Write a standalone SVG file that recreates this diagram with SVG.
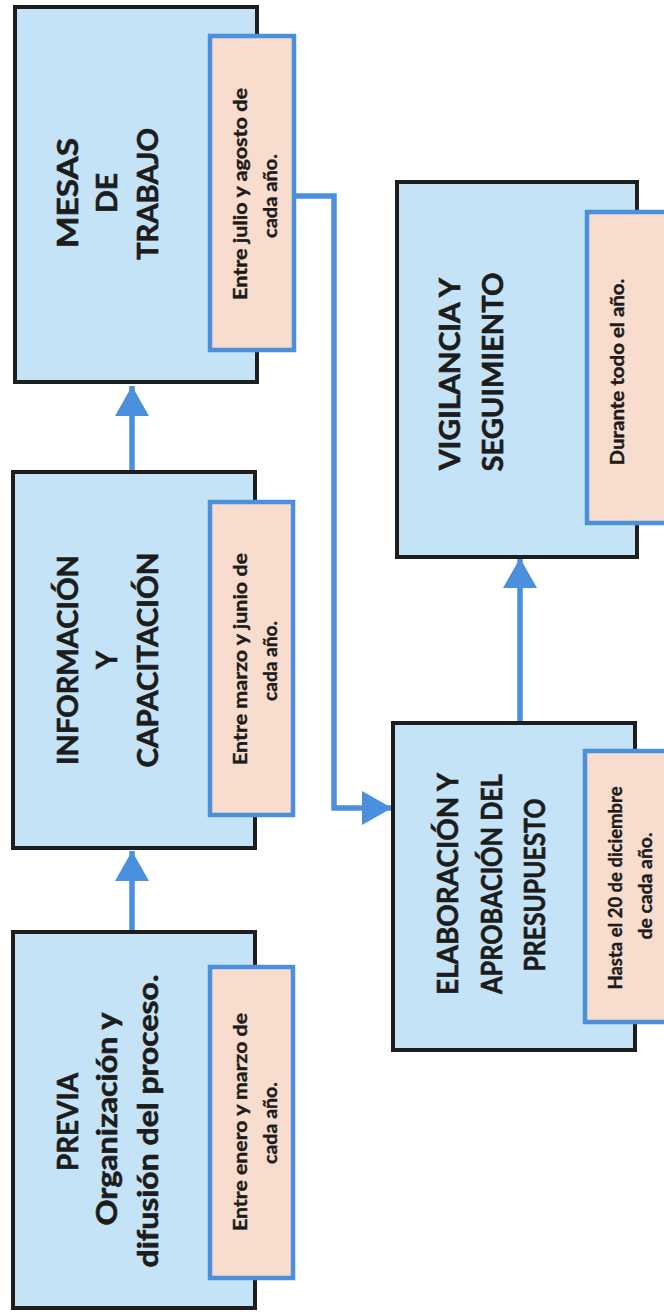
<svg xmlns="http://www.w3.org/2000/svg" width="664" height="1313" viewBox="0 0 664 1313">
<style>
.box{fill:#c4e3f7;stroke:#1e1e1e;stroke-width:4}
.note{fill:#f8dccd;stroke:#4a90dc;stroke-width:4.5}
.main{font-family:Lato,"Open Sans","Liberation Sans",sans-serif;font-weight:700;font-size:28px;fill:#1c1c1c;stroke:#1c1c1c;stroke-width:0.6;text-anchor:middle}
.small{font-family:Lato,"Open Sans","Liberation Sans",sans-serif;font-weight:700;font-size:19px;fill:#1c1c1c;stroke:#1c1c1c;stroke-width:0.4;text-anchor:middle}
.conn{fill:none;stroke:#4a90dc;stroke-width:5.5}
</style>
<defs>
<marker id="ah" markerUnits="userSpaceOnUse" markerWidth="32" markerHeight="34" refX="30" refY="17" orient="auto">
<path d="M0,0 L30,17 L0,34 Z" fill="#4a90dc"/>
</marker>
</defs>
<rect width="664" height="1313" fill="#ffffff"/>
<g id="connectors">
<line class="conn" x1="132" y1="932" x2="132" y2="851" marker-end="url(#ah)"/>
<line class="conn" x1="132" y1="472" x2="132" y2="386" marker-end="url(#ah)"/>
<polyline class="conn" points="294,196 334,196 334,808 392,808" marker-end="url(#ah)"/>
<line class="conn" x1="520" y1="723" x2="520" y2="558" marker-end="url(#ah)"/>
</g>
<g id="previa">
<rect class="box" x="13" y="932" width="242" height="376"/>
<text class="main" transform="translate(78,1122) rotate(-90)" textLength="98" lengthAdjust="spacingAndGlyphs">PREVIA</text>
<text class="main" transform="translate(117,1119) rotate(-90)" textLength="213" lengthAdjust="spacingAndGlyphs">Organización y</text>
<text class="main" transform="translate(158,1121) rotate(-90)" textLength="293" lengthAdjust="spacingAndGlyphs">difusión del proceso.</text>
<rect class="note" x="210" y="967" width="83" height="311"/>
<text class="small" transform="translate(247,1122) rotate(-90)" textLength="218" lengthAdjust="spacingAndGlyphs">Entre enero y marzo de</text>
<text class="small" transform="translate(277,1123) rotate(-90)" textLength="82" lengthAdjust="spacingAndGlyphs">cada año.</text>
</g>
<g id="informacion">
<rect class="box" x="13" y="472" width="242" height="376"/>
<text class="main" transform="translate(78,660) rotate(-90)" textLength="210" lengthAdjust="spacingAndGlyphs">INFORMACIÓN</text>
<text class="main" transform="translate(117,660) rotate(-90)">Y</text>
<text class="main" transform="translate(158,660) rotate(-90)" textLength="215" lengthAdjust="spacingAndGlyphs">CAPACITACIÓN</text>
<rect class="note" x="210" y="502" width="83" height="313"/>
<text class="small" transform="translate(247,659) rotate(-90)" textLength="212" lengthAdjust="spacingAndGlyphs">Entre marzo y junio de</text>
<text class="small" transform="translate(277,661) rotate(-90)" textLength="80" lengthAdjust="spacingAndGlyphs">cada año.</text>
</g>
<g id="mesas">
<rect class="box" x="15" y="7" width="242" height="375"/>
<text class="main" transform="translate(78,193) rotate(-90)" textLength="110" lengthAdjust="spacingAndGlyphs">MESAS</text>
<text class="main" transform="translate(117,193) rotate(-90)" textLength="40" lengthAdjust="spacingAndGlyphs">DE</text>
<text class="main" transform="translate(158,194) rotate(-90)" textLength="132" lengthAdjust="spacingAndGlyphs">TRABAJO</text>
<rect class="note" x="210" y="36" width="84" height="314"/>
<text class="small" transform="translate(247,194) rotate(-90)" textLength="212" lengthAdjust="spacingAndGlyphs">Entre julio y agosto de</text>
<text class="small" transform="translate(277,196) rotate(-90)" textLength="84" lengthAdjust="spacingAndGlyphs">cada año.</text>
</g>
<g id="vigilancia">
<rect class="box" x="397" y="182" width="240" height="375"/>
<text class="main" transform="translate(460,374) rotate(-90)" textLength="192" lengthAdjust="spacingAndGlyphs">VIGILANCIA Y</text>
<text class="main" transform="translate(503,372) rotate(-90)" textLength="199" lengthAdjust="spacingAndGlyphs">SEGUIMIENTO</text>
<rect class="note" x="587" y="212" width="100" height="311"/>
<text class="small" transform="translate(624,372) rotate(-90)" textLength="187" lengthAdjust="spacingAndGlyphs">Durante todo el año.</text>
</g>
<g id="elaboracion">
<rect class="box" x="393" y="723" width="242" height="327"/>
<text class="main" transform="translate(458,884) rotate(-90)" textLength="222" lengthAdjust="spacingAndGlyphs">ELABORACIÓN Y</text>
<text class="main" transform="translate(502,884) rotate(-90)" textLength="220" lengthAdjust="spacingAndGlyphs">APROBACIÓN DEL</text>
<text class="main" transform="translate(545,885) rotate(-90)" textLength="173" lengthAdjust="spacingAndGlyphs">PRESUPUESTO</text>
<rect class="note" x="585" y="751" width="100" height="271"/>
<text class="small" transform="translate(622,888) rotate(-90)" textLength="203" lengthAdjust="spacingAndGlyphs">Hasta el 20 de diciembre</text>
<text class="small" transform="translate(652,886) rotate(-90)" textLength="107" lengthAdjust="spacingAndGlyphs">de cada año.</text>
</g>
</svg>
